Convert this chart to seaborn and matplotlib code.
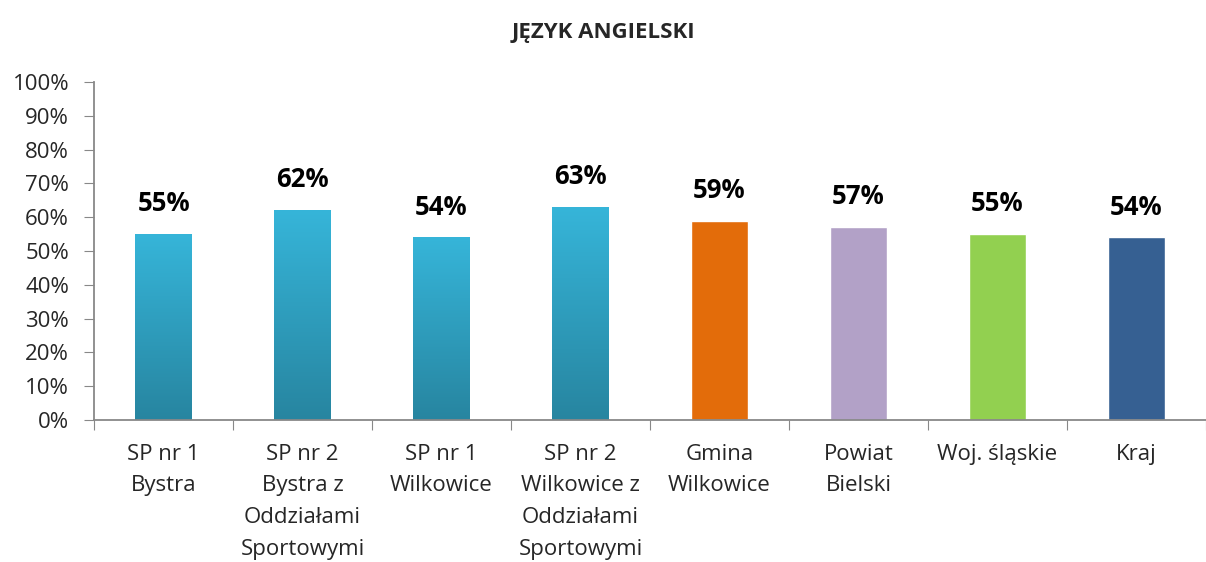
import numpy as np
import pandas as pd
import seaborn as sns
import matplotlib.pyplot as plt
from matplotlib.colors import LinearSegmentedColormap

categories = ['SP nr 1\nBystra', 'SP nr 2\nBystra z\nOddziałami\nSportowymi',
              'SP nr 1\nWilkowice', 'SP nr 2\nWilkowice z\nOddziałami\nSportowymi',
              'Gmina\nWilkowice', 'Powiat\nBielski', 'Woj. śląskie', 'Kraj']
values = [55, 62, 54, 63, 59, 57, 55, 54]
colors = ['#34b3d6', '#34b3d6', '#34b3d6', '#34b3d6',
          '#e36c0a', '#b2a1c7', '#92d050', '#366092']
gradient_bars = [0, 1, 2, 3]

df = pd.DataFrame({'cat': categories, 'val': values})

sns.set_style('white')
plt.rcParams['font.family'] = ['Open Sans', 'DejaVu Sans']

fig = plt.figure(figsize=(12.06, 5.62), dpi=100)
ax = fig.add_axes([0.078, 0.2527, 0.922, 0.6015])

sns.barplot(data=df, x='cat', y='val', hue='cat', palette=colors,
            legend=False, width=0.41, saturation=1, ax=ax)

grad = LinearSegmentedColormap.from_list('g', ['#2785a0', '#36b5d9'])
for i, p in enumerate(ax.patches):
    if i in gradient_bars:
        x0, y0 = p.get_x(), p.get_y()
        w, h = p.get_width(), p.get_height()
        img = ax.imshow(np.linspace(0, 1, 256).reshape(-1, 1), cmap=grad,
                        origin='lower', aspect='auto',
                        extent=[x0, x0 + w, y0, y0 + h], zorder=p.get_zorder() + 0.1)
        img.set_clip_path(p)
    ax.text(p.get_x() + p.get_width() / 2, p.get_height() + 5,
            f'{values[i]}%', ha='center', va='bottom', fontsize=18.5,
            fontweight='bold', color='black')

ax.set_xlim(-0.5, 7.43)
ax.set_ylim(0, 100)
ax.set_yticks(range(0, 101, 10))
ax.set_yticklabels([f'{v}%' for v in range(0, 101, 10)], fontsize=16)
ax.set_xticks(np.arange(-0.5, 8, 1))
ax.set_xticklabels([])
ax.set_xticks(range(8), minor=True)
ax.set_xticklabels(categories, minor=True, fontsize=16, linespacing=1.68, va='top')
ax.tick_params(axis='x', which='major', length=7, color='#888888', direction='out', bottom=True)
ax.tick_params(axis='x', which='minor', length=0, pad=17)
ax.tick_params(axis='y', length=7, color='#888888', direction='out', left=True, pad=11)
ax.set_xlabel('')
ax.set_ylabel('')
sns.despine(ax=ax, top=True, right=True)
for s in ['left', 'bottom']:
    ax.spines[s].set_color('#888888')
    ax.spines[s].set_linewidth(1.3)

fig.text(0.5, 0.943, 'JĘZYK ANGIELSKI', ha='center', va='center',
         fontsize=16, fontweight='bold')

fig.savefig('out.png', dpi=100)
